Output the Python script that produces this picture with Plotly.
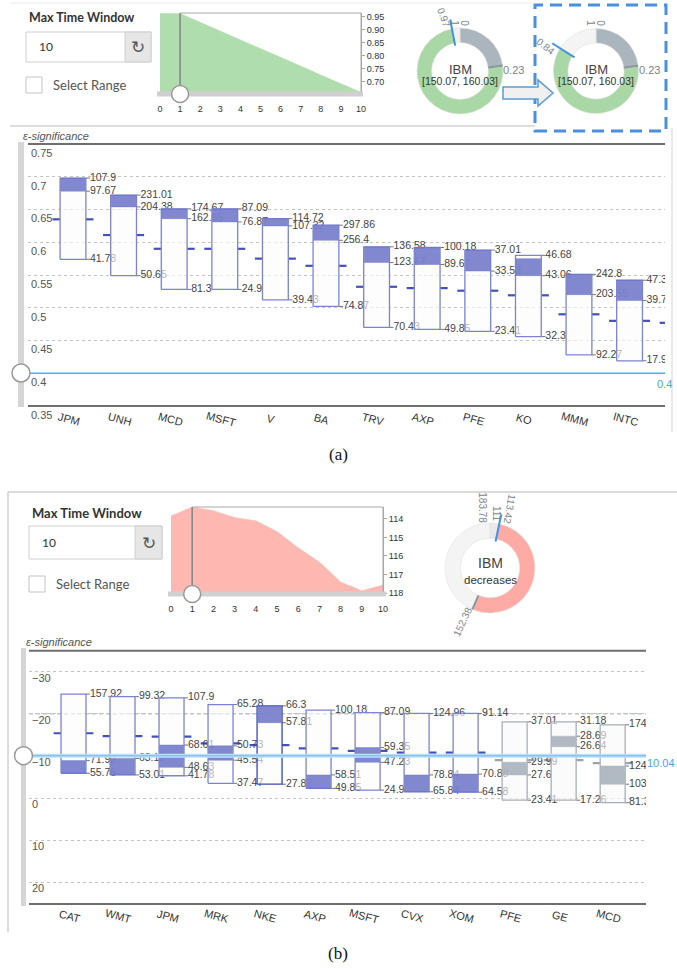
import math
import plotly.graph_objects as go

W, H = 677, 969
def X(p): return p / W
def Y(p): return 1 - p / H

# ---------------- panel (a) data ----------------
a_cats = ["JPM", "UNH", "MCD", "MSFT", "V", "BA", "TRV", "AXP", "PFE", "KO", "MMM", "INTC"]
a_hi      = [0.698, 0.672, 0.651, 0.651, 0.636, 0.626, 0.593, 0.592, 0.588, 0.580, 0.551, 0.542]
a_band_hi = [0.698, 0.672, 0.651, 0.651, 0.636, 0.626, 0.593, 0.592, 0.588, 0.575, 0.551, 0.542]
a_band_lo = [0.678, 0.654, 0.636, 0.631, 0.625, 0.603, 0.569, 0.566, 0.556, 0.549, 0.520, 0.511]
a_lo      = [0.574, 0.549, 0.528, 0.528, 0.512, 0.502, 0.470, 0.467, 0.464, 0.456, 0.428, 0.419]
a_mid     = [0.635, 0.611, 0.590, 0.590, 0.575, 0.564, 0.532, 0.530, 0.526, 0.519, 0.490, 0.480]
a_lbl_hi      = ["107.9", "231.01", "174.67", "87.09", "114.72", "297.86", "136.58", "100.18", "37.01", "46.68", "242.8", "47.3"]
a_lbl_band_hi = [None, None, None, None, None, None, None, None, None, None, None, None]
a_lbl_band_lo = ["97.67", "204.38", "162.65", "76.87", "107.32", "256.4", "123.17", "89.67", "33.53", "43.06", "203.55", "39.7"]
a_lbl_lo      = ["41.78", "50.65", "81.3", "24.9", "39.43", "74.87", "70.43", "49.85", "23.41", "32.3", "92.27", "17.9"]
a_next_mid = 0.477
a_threshold = 0.4
a_threshold_label = "0.4"
a_yticks = [0.35, 0.4, 0.45, 0.5, 0.55, 0.6, 0.65, 0.7, 0.75]
a_yticktext = ["0.35", "0.4", "0.45", "0.5", "0.55", "0.6", "0.65", "0.7", "0.75"]

# ---------------- panel (b) data ----------------
b_cats = ["CAT", "WMT", "JPM", "MRK", "NKE", "AXP", "MSFT", "CVX", "XOM", "PFE", "GE", "MCD"]
b_top      = [-24.7, -24.1, -23.8, -22.2, -21.9, -20.9, -20.3, -20.1, -20.1, -18.1, -18.1, -17.4]
b_band_top = [-8.9, -9.4, -12.6, -12.4, -21.9, -5.5, -12.0, -5.5, -5.7, -8.5, -14.7, -7.6]
b_band_bot = [-5.9, -5.5, -7.3, -9.0, -17.9, -2.3, -8.5, -1.5, -1.4, -5.5, -12.2, -3.3]
b_bottom   = [-5.9, -5.5, -5.3, -3.5, -3.3, -2.3, -1.9, -1.5, -1.4, 0.5, 0.5, 1.1]
b_mid      = [-15.4, -14.7, -14.6, -13.0, -12.6, -11.8, -11.2, -10.8, -10.8, -9.0, -9.0, -8.3]
b_lbl_top      = ["157.92", "99.32", "107.9", "65.28", "66.3", "100.18", "87.09", "124.96", "91.14", "37.01", "31.18", "174.67"]
b_lbl_band_top = ["71.92", "63.12", "68.61", "50.73", None, "58.51", "59.35", "78.84", "70.88", "29.99", "28.69", "124.6"]
b_lbl_band_bot = [None, None, "48.63", "45.54", "57.81", None, "47.23", None, None, "27.6", "26.64", "103.2"]
b_lbl_bottom   = ["55.76", "53.01", "41.78", "37.47", "27.82", "49.85", "24.9", "65.84", "64.58", "23.41", "17.26", "81.3"]
b_threshold = -10.04
b_threshold_label = "10.04"
b_yticks = [-30, -20, -10, 0, 10, 20]
b_strong_grid = -20
b_gray_cats = ["PFE", "GE", "MCD"]
b_selected_cats = ["NKE"]

# ---------------- small widgets data ----------------
window_x = [0, 1, 2, 3, 4, 5, 6, 7, 8, 9, 10]
green_y = [0.963, 0.963, 0.929, 0.896, 0.862, 0.828, 0.795, 0.761, 0.727, 0.694, 0.660]
green_yticks = [0.70, 0.75, 0.80, 0.85, 0.90, 0.95]
red_y = [113.84, 113.36, 113.56, 113.93, 114.10, 114.68, 115.56, 116.33, 117.40, 117.88, 117.57]
red_floor = 118.0
red_yticks = [114, 115, 116, 117, 118]
time_window = 1
max_window_text = "10"

donut1_bounds = [0, 0.23, 0.97, 1.0]
donut2_bounds = [0, 0.23, 0.84, 1.0]
donutb_bounds = [0, 0.033, 0.564, 1.0]
donutb_labels = ["183.78", "111", "113.42", "152.38"]

FONT = "Liberation Sans"
fig = go.Figure()
shapes, ann = [], []

def text(x, y, s, size=11, color="#333", anchor="left", family=FONT, angle=0, **kw):
    ann.append(dict(x=X(x), y=Y(y), xref="paper", yref="paper", text=s, showarrow=False,
                    xanchor=anchor, yanchor="middle", textangle=angle,
                    font=dict(size=size, color=color, family=family), **kw))

def rect(x0, y0, x1, y1, fill="rgba(0,0,0,0)", line="#ccc", lw=1, layer="above", dash=None):
    shapes.append(dict(type="rect", xref="paper", yref="paper", x0=X(x0), x1=X(x1), y0=Y(y1), y1=Y(y0),
                       fillcolor=fill, line=dict(color=line, width=lw, dash=dash), layer=layer))

def seg(x0, y0, x1, y1, color, w=1, layer="above", dash=None):
    shapes.append(dict(type="line", xref="paper", yref="paper", x0=X(x0), x1=X(x1), y0=Y(y0), y1=Y(y1),
                       line=dict(color=color, width=w, dash=dash), layer=layer))

def circ(cx, cy, r, fill="white", line="#999", lw=1.5):
    shapes.append(dict(type="circle", xref="paper", yref="paper", x0=X(cx - r), x1=X(cx + r),
                       y0=Y(cy + r), y1=Y(cy - r), fillcolor=fill, line=dict(color=line, width=lw)))

# ---------------- box charts ----------------
def box_chart(cats, tops, btops, bbots, bots, mids, lbls, xa, ya, gray=(), selected=()):
    half = 0.255
    idx = list(range(len(cats)))
    is_gray = [c in gray for c in cats]
    groups = {}
    for i, m in zip(idx, mids):
        col = "#9aa5ad" if is_gray[i] else "#4551b8"
        xs, ys = groups.setdefault(col, ([], []))
        xs += [i - half - 0.15, i - half, None, i + half, i + half + 0.15, None]
        ys += [m, m, None, m, m, None]
    for col, (xs, ys) in groups.items():
        fig.add_trace(go.Scatter(x=xs, y=ys, mode="lines", line=dict(color=col, width=2.2),
                                 xaxis=xa, yaxis=ya, hoverinfo="skip"))
    levels = [tops, btops, bbots, bots]
    tx, ty, tt, kx, ky = [], [], [], [], []
    for lv, lb in zip(levels, lbls):
        for i in idx:
            if lb[i] is None:
                continue
            tx.append(i + half + 0.08); ty.append(lv[i]); tt.append(lb[i])
            kx += [i + half, i + half + 0.08, None]; ky += [lv[i], lv[i], None]
    fig.add_trace(go.Scatter(x=kx, y=ky, mode="lines", line=dict(color="#777", width=1),
                             xaxis=xa, yaxis=ya, hoverinfo="skip"))
    fig.add_trace(go.Scatter(x=tx, y=ty, text=tt, mode="text", textposition="middle right",
                             textfont=dict(size=10.5, color="#444", family=FONT),
                             xaxis=xa, yaxis=ya, hoverinfo="skip"))
    def style(i):
        if is_gray[i]:
            return ("rgba(248,249,249,0.62)", "#a7b0b7", 1.3)
        if cats[i] in selected:
            return ("rgba(252,252,254,0.62)", "#3b47b3", 1.3)
        return ("rgba(252,252,254,0.62)", "#7c84d2", 1.3)
    bx = {}
    for i in idx:
        xs, ys = bx.setdefault(style(i), ([], []))
        xs += [i - half, i + half, i + half, i - half, i - half, None]
        ys += [bots[i], bots[i], tops[i], tops[i], bots[i], None]
    for (fc, lc, lw), (xs, ys) in bx.items():
        fig.add_trace(go.Scatter(x=xs, y=ys, mode="lines", fill="toself", fillcolor=fc,
                                 line=dict(color=lc, width=lw), xaxis=xa, yaxis=ya, hoverinfo="skip"))
    bd = {}
    for i in idx:
        col = "rgba(166,177,185,0.88)" if is_gray[i] else "rgba(108,116,199,0.86)"
        xs, ys = bd.setdefault(col, ([], []))
        h2 = half - 0.012
        xs += [i - h2, i + h2, i + h2, i - h2, i - h2, None]
        ys += [bbots[i], bbots[i], btops[i], btops[i], bbots[i], None]
    for col, (xs, ys) in bd.items():
        fig.add_trace(go.Scatter(x=xs, y=ys, mode="lines", fill="toself", fillcolor=col,
                                 line=dict(color=col, width=0.5), xaxis=xa, yaxis=ya, hoverinfo="skip"))

box_chart(a_cats, a_hi, a_band_hi, a_band_lo, a_lo, a_mid,
          [a_lbl_hi, a_lbl_band_hi, a_lbl_band_lo, a_lbl_lo], "x", "y")
fig.add_trace(go.Scatter(x=[len(a_cats) - 0.255 - 0.15, len(a_cats) - 0.255], y=[a_next_mid, a_next_mid],
                         mode="lines", line=dict(color="#4551b8", width=2.2), xaxis="x", yaxis="y", hoverinfo="skip"))
box_chart(b_cats, b_top, b_band_top, b_band_bot, b_bottom, b_mid,
          [b_lbl_top, b_lbl_band_top, b_lbl_band_bot, b_lbl_bottom], "x2", "y2",
          gray=b_gray_cats, selected=b_selected_cats)

for i, c in enumerate(a_cats):
    ann.append(dict(x=i, y=Y(419), xref="x", yref="paper", text=c, showarrow=False, textangle=15,
                    xanchor="center", yanchor="middle", xshift=-4,
                    font=dict(size=11, color="#333", family=FONT)))
for i, c in enumerate(b_cats):
    ann.append(dict(x=i, y=Y(916), xref="x2", yref="paper", text=c, showarrow=False, textangle=15,
                    xanchor="center", yanchor="middle", xshift=-4,
                    font=dict(size=11, color="#333", family=FONT)))

for xa, ya in (("x", "y"), ("x2", "y2")):
    for yv in (0, 1):
        shapes.append(dict(type="line", xref=xa + " domain", yref=ya + " domain", x0=0, x1=1, y0=yv, y1=yv,
                           line=dict(color="#6e6e6e", width=2)))
shapes.append(dict(type="line", xref="x2 domain", yref="y2", x0=0, x1=1, y0=b_strong_grid, y1=b_strong_grid,
                   line=dict(color="#a9a9a9", width=1, dash="4px,3px"), layer="below"))
shapes.append(dict(type="line", xref="paper", yref="y", x0=X(21), x1=X(665), y0=a_threshold, y1=a_threshold,
                   line=dict(color="#59aaf0", width=1.5)))
ann.append(dict(x=X(655), y=a_threshold, xref="paper", yref="y", text=a_threshold_label, showarrow=False,
                xanchor="left", yshift=-11, font=dict(size=11, color="#4ea3ee", family=FONT)))
shapes.append(dict(type="line", xref="paper", yref="y2", x0=X(23), x1=X(646), y0=b_threshold, y1=b_threshold,
                   line=dict(color="#bfe0f8", width=4)))
shapes.append(dict(type="line", xref="paper", yref="y2", x0=X(23), x1=X(646), y0=b_threshold, y1=b_threshold,
                   line=dict(color="#6cb6f2", width=1)))
ann.append(dict(x=X(645), y=b_threshold, xref="paper", yref="y2", text=b_threshold_label, showarrow=False,
                xanchor="left", yshift=-7, font=dict(size=11, color="#4ea3ee", family=FONT)))

rect(18, 142, 24, 407, fill="#d5d5d5", line="#d5d5d5", lw=0)
circ(21, 373, 9)
rect(21, 648, 26, 906, fill="#d5d5d5", line="#d5d5d5", lw=0)
circ(23.5, 755.7, 9)
text(21, 136, "<i>ε-significance</i>", 11, "#555")
text(24, 642, "<i>ε-significance</i>", 11, "#555")

# ---------------- time window area charts ----------------
fig.add_trace(go.Scatter(x=window_x, y=green_y, fill="tozeroy", mode="lines",
                         line=dict(color="#b0ddae", width=0.5), fillcolor="#b0ddae",
                         xaxis="x3", yaxis="y3", hoverinfo="skip"))
fig.add_trace(go.Scatter(x=window_x, y=[red_floor] * len(window_x), mode="lines",
                         line=dict(width=0, color="rgba(0,0,0,0)"), xaxis="x4", yaxis="y4", hoverinfo="skip"))
fig.add_trace(go.Scatter(x=window_x, y=red_y, fill="tonexty", mode="lines",
                         line=dict(color="#ffb8b1", width=0.5), fillcolor="#ffb8b1",
                         xaxis="x4", yaxis="y4", hoverinfo="skip"))
for xa, ya, ty, x0p, x1p, ppu in (("x3", "y3", 94, 157, 363, 20.1), ("x4", "y4", 594, 168, 386, 21.2)):
    shapes.append(dict(type="rect", xref=xa, yref=ya + " domain", x0=time_window, x1=window_x[-1], y0=0, y1=1,
                       line=dict(color="#a8a8a8", width=1)))
    shapes.append(dict(type="line", xref=xa, yref=ya + " domain", x0=time_window, x1=time_window, y0=0, y1=1,
                       line=dict(color="#888", width=1.5)))
    seg(x0p, ty, x1p, ty, "#d0d0d0", 5)
    shapes.append(dict(type="circle", xref=xa, yref="paper", x0=time_window - 8.5 / ppu, x1=time_window + 8.5 / ppu,
                       y0=Y(ty + 8.5), y1=Y(ty - 8.5), fillcolor="white", line=dict(color="#999", width=1.5)))

# ---------------- donuts ----------------
def donut(name, cx, cy, R, bounds, colors, needle=None, ticks=()):
    S = R * 1.3
    n = len(bounds) - 1
    fig.add_trace(go.Barpolar(r=[0.34] * n, base=[0.66] * n,
                              theta=[(bounds[k] + bounds[k + 1]) / 2 * 360 for k in range(n)],
                              width=[(bounds[k + 1] - bounds[k]) * 360 for k in range(n)],
                              marker=dict(color=colors, line=dict(color="#e2e2e2", width=0.6)),
                              subplot=name, hoverinfo="skip"))
    for v in ticks:
        fig.add_trace(go.Scatterpolar(r=[0.66, 1.0], theta=[v * 360, v * 360], mode="lines",
                                      line=dict(color="#8d979e", width=2), subplot=name, hoverinfo="skip"))
    if needle is not None:
        fig.add_trace(go.Scatterpolar(r=[0.6, 1.22], theta=[needle * 360, needle * 360], mode="lines",
                                      line=dict(color="#3f92e4", width=2), subplot=name, hoverinfo="skip"))
    return dict(domain=dict(x=[X(cx - S), X(cx + S)], y=[Y(cy + S), Y(cy - S)]),
                bgcolor="rgba(0,0,0,0)",
                radialaxis=dict(visible=False, range=[0, 1.3]),
                angularaxis=dict(visible=False, rotation=90, direction="clockwise"))

def dlabel(cx, cy, frac, rpx, dang, s, angle, size=10, color="#7b858d"):
    a = math.radians(frac * 360 + dang)
    text(cx + rpx * math.sin(a), cy - rpx * math.cos(a), s, size, color, anchor="center", angle=angle)

polar1 = donut("polar", 460, 71, 43, donut1_bounds, ["#abb5bd", "#a9d8a6", "#f1f1f1"],
               needle=donut1_bounds[2], ticks=[donut1_bounds[1]])
polar2 = donut("polar2", 596, 71, 42.5, donut2_bounds, ["#abb5bd", "#a9d8a6", "#f4f4f4"],
               needle=donut2_bounds[2], ticks=[donut2_bounds[1]])
polar3 = donut("polar3", 490, 568, 45, donutb_bounds, ["#e9e9e9", "#ffaba5", "#f4f4f4"],
               needle=donutb_bounds[1], ticks=[donutb_bounds[2]])

for cx, bnd in ((460, donut1_bounds), (596, donut2_bounds)):
    dlabel(cx, 71, bnd[2], 56, -6, f"{bnd[2]:g}", 70 if bnd[2] > 0.9 else 38)
    dlabel(cx, 71, bnd[3], 48, -7, f"{bnd[3]:g}", 90)
    dlabel(cx, 71, bnd[0], 48, 6, f"{bnd[0]:g}", 90)
    dlabel(cx, 71, bnd[1], 54, 6, f"{bnd[1]:g}", 0, size=11)
    text(cx, 70, "IBM", 13, "#444", anchor="center")
    text(cx, 81, "[150.07, 160.03]", 10.5, "#333", anchor="center")

dlabel(490, 568, donutb_bounds[0], 61, -6.5, donutb_labels[0], 90)
dlabel(490, 568, donutb_bounds[1], 54, -5.0, donutb_labels[1], 90)
dlabel(490, 568, donutb_bounds[1], 62, 6.0, donutb_labels[2], 100)
dlabel(490, 568, donutb_bounds[2], 60, 4, donutb_labels[3], -65)
text(490, 563, "IBM", 14, "#444", anchor="center")
text(490, 580, "decreases", 11.5, "#333", anchor="center")

rect(535, 5, 666, 131, fill="white", line="#4a90e2", lw=3, layer="below", dash="12px,7px")
shapes.append(dict(type="path", xref="paper", yref="paper",
                   path=(f"M {X(503)},{Y(87)} L {X(538)},{Y(87)} L {X(538)},{Y(80)} L {X(553)},{Y(93)} "
                         f"L {X(538)},{Y(106)} L {X(538)},{Y(99)} L {X(503)},{Y(99)} Z"),
                   fillcolor="#f0f0f0", line=dict(color="#5b9bd5", width=1.5)))

# ---------------- form widgets ----------------
for (tx, ty, bx0, by0, bx1, by1, btn, cbx, cby, lsize) in (
        (27, 17, 26, 32, 151, 62, 125, 26, 77, 12.5),
        (30, 513, 29, 526, 162, 559, 135, 29, 576, 13)):
    text(tx, ty, "<b>Max Time Window</b>", lsize, "#333", family="Lato")
    rect(bx0, by0, bx1, by1, fill="white", line="#d0d0d0")
    rect(btn, by0, bx1, by1, fill="#e6e6e6", line="#d0d0d0")
    text(bx0 + 11, (by0 + by1) / 2, max_window_text, 12, "#333", family="Lato")
    text((btn + bx1) / 2, (by0 + by1) / 2, "↻", 17, "#555", anchor="center", family="DejaVu Sans")
    rect(cbx, cby, cbx + 16, cby + 16, fill="white", line="#c4c4c4")
    text(cbx + 25, cby + 8, "Select Range", 13, "#555", family="Lato")

seg(10, 3, 535, 3, "#ececec", 1)
seg(10, 126, 535, 126, "#bdbdbd", 1)
seg(672, 128, 672, 432, "#d5d5d5", 1)
seg(8, 492, 677, 492, "#cfcfcf", 1.5)
seg(8, 492, 8, 932, "#cfcfcf", 1.5)

text(338, 455, "(a)", 17, "#111", anchor="center", family="Liberation Serif")
text(338, 953, "(b)", 17, "#111", anchor="center", family="Liberation Serif")

main_y = dict(showgrid=True, gridcolor="#c4c4c4", griddash="dot", gridwidth=1, zeroline=False, showline=False,
              ticks="", ticklabelposition="inside", ticklabeloverflow="allow", automargin=False,
              tickfont=dict(size=11, color="#555", family=FONT))
main_x = dict(showgrid=False, zeroline=False, showticklabels=False, showline=False, ticks="", automargin=False)
small_x = dict(showgrid=False, zeroline=False, showline=False, ticks="outside", ticklen=7, automargin=False,
               tickcolor="rgba(0,0,0,0)", tickfont=dict(size=9, color="#333", family=FONT), tickvals=window_x)
small_y = dict(showgrid=False, zeroline=False, showline=True, linecolor="#a8a8a8", side="right", automargin=False,
               ticks="outside", ticklen=3, tickcolor="#a8a8a8", tickfont=dict(size=9, color="#333", family=FONT))

fig.update_layout(
    width=W, height=H, margin=dict(l=0, r=0, t=0, b=0, pad=0, autoexpand=False),
    paper_bgcolor="white", plot_bgcolor="rgba(0,0,0,0)",
    showlegend=False, hovermode=False, dragmode=False,
    font=dict(family=FONT),
    xaxis=dict(domain=[X(28), X(665)], range=[-0.889, 11.70], anchor="y", **main_x),
    yaxis=dict(domain=[Y(406), Y(144)], range=[0.35, 0.75], anchor="x", tickvals=a_yticks,
               ticktext=a_yticktext, ticklabelshift=9, **main_y),
    xaxis2=dict(domain=[X(29), X(646)], range=[-0.908, 11.68], anchor="y2", **main_x),
    yaxis2=dict(domain=[Y(904), Y(650.7)], range=[25.15, -35.0], anchor="x2", tickvals=b_yticks,
                ticklabelshift=-6, **main_y),
    xaxis3=dict(domain=[X(160), X(361)], range=[0, 10], anchor="y3", **small_x),
    yaxis3=dict(domain=[Y(93), Y(13)], range=[0.6575, 0.965], anchor="x3", tickvals=green_yticks,
                tickformat=".2f", **small_y),
    xaxis4=dict(domain=[X(171), X(383)], range=[0, 10], anchor="y4", **small_x),
    yaxis4=dict(domain=[Y(593), Y(507)], range=[red_floor, 113.36], anchor="x4", tickvals=red_yticks, **small_y),
    polar=polar1, polar2=polar2, polar3=polar3,
    shapes=shapes, annotations=ann,
)

fig.write_html("out.html", config={"displayModeBar": False, "staticPlot": True},
               post_script="document.body.style.margin='0px';document.body.style.overflow='hidden';")
